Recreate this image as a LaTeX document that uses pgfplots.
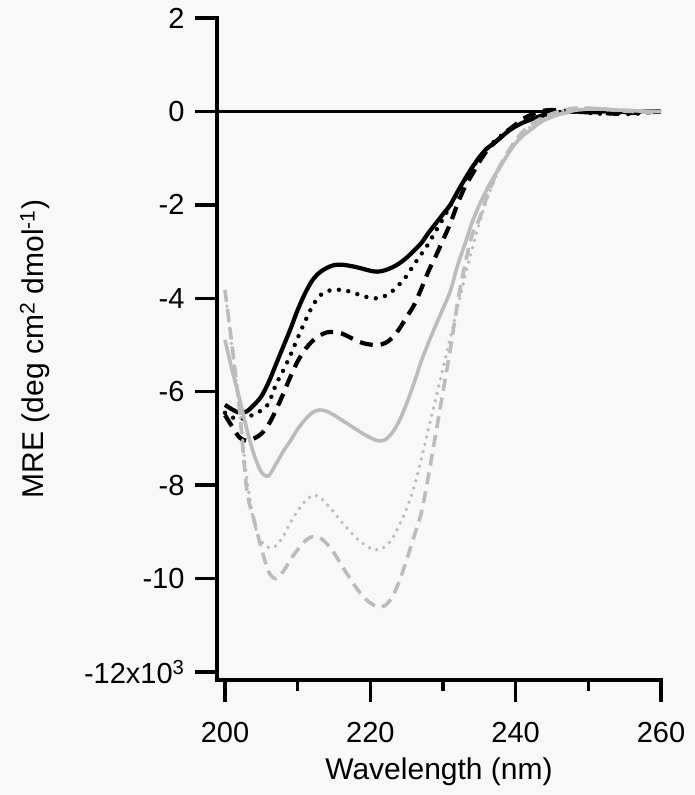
\documentclass[border=0pt]{standalone}
\usepackage{fontspec}
\setmainfont{Liberation Sans}
\usepackage{pgfplots}
\pgfplotsset{compat=1.18}
\definecolor{bg}{RGB}{248,248,248}
\definecolor{lg}{RGB}{188,188,188}
\begin{document}
\begin{tikzpicture}
\fill[bg] (0,0) rectangle (695pt,795pt);
\useasboundingbox (0,0) rectangle (695pt,795pt);
\begin{axis}[
  at={(217pt,115pt)}, anchor=south west,
  scale only axis, width=444pt, height=662pt,
  xmin=198.9, xmax=260, ymin=-12.17, ymax=2,
  axis lines*=left,
  axis line style={line width=3.5pt, line cap=rect},
  tick style={black, line width=3.5pt},
  tick align=outside, major tick length=22pt, minor tick length=11pt,
  xtick={200,220,240,260}, minor xtick={210,230,250},
  xticklabels={200,220,240,260},
  ytick={-12,-10,-8,-6,-4,-2,0,2},
  yticklabels={{-12x10\textsuperscript{3}},-10,-8,-6,-4,-2,0,2},
  yticklabel style={font=\fontsize{29}{34}\selectfont, xshift=-7pt},
  xticklabel style={font=\fontsize{29}{34}\selectfont, yshift=-17pt},
  every axis x label/.style={at={(rel axis cs:0.5,0)}, anchor=center, yshift=-92pt, font=\fontsize{30}{36}\selectfont},
  every axis y label/.style={at={(rel axis cs:0,0.5)}, anchor=center, xshift=-182pt, rotate=90, font=\fontsize{30}{36}\selectfont},
  xlabel={Wavelength (nm)},
  ylabel={MRE (deg cm\textsuperscript{2} dmol\textsuperscript{-1})},
]
\addplot[black, line width=3pt] coordinates {(198.9,0) (260,0)};
% black solid
\addplot[black, line width=4.2pt, smooth] coordinates {
(200,-6.28) (201,-6.38) (202,-6.45) (203,-6.42) (204,-6.28) (205,-6.10) (206,-5.80) (207,-5.42) (208,-5.04) (209,-4.66) (210,-4.25) (211,-3.90) (212,-3.62) (213,-3.45) (214,-3.35) (215,-3.29) (216,-3.28) (217,-3.30) (218,-3.33) (219,-3.37) (220,-3.41) (221,-3.43) (222,-3.40) (223,-3.34) (224,-3.25) (225,-3.13) (226,-2.98) (227,-2.82) (228,-2.60) (229,-2.40) (230,-2.20) (231,-2.00) (232,-1.72) (233,-1.45) (234,-1.20) (235,-0.98) (236,-0.80) (237,-0.68) (238,-0.55) (239,-0.42) (240,-0.32) (241,-0.24) (242,-0.18) (243,-0.12) (244,-0.07) (245,-0.04) (246,-0.02) (248,0.0) (250,-0.02) (252,0.0) (254,0.0) (256,-0.02) (258,0.0) (260,0.0)};
% black dotted
\addplot[black, line width=4.4pt, line cap=round, dash pattern=on 0pt off 9.5pt, smooth] coordinates {
(200,-6.45) (201,-6.55) (202,-6.58) (203,-6.55) (204,-6.48) (205,-6.40) (206,-6.25) (207,-5.85) (208,-5.55) (209,-5.22) (210,-4.85) (211,-4.50) (212,-4.18) (213,-3.95) (214,-3.85) (215,-3.82) (216,-3.82) (217,-3.85) (218,-3.90) (219,-3.95) (220,-3.99) (221,-4.00) (222,-3.95) (223,-3.85) (224,-3.70) (225,-3.52) (226,-3.28) (227,-3.06) (228,-2.83) (229,-2.56) (230,-2.30) (231,-2.02) (232,-1.75) (233,-1.47) (234,-1.22) (235,-0.99) (236,-0.80) (237,-0.65) (238,-0.52) (239,-0.40) (240,-0.30) (242,-0.16) (244,-0.08) (246,-0.03) (248,0.0) (250,-0.03) (252,-0.05) (254,-0.03) (256,-0.06) (258,-0.02) (260,0.0)};
% black dashed
\addplot[black, line width=4.2pt, dash pattern=on 13pt off 8pt, smooth] coordinates {
(200,-6.50) (201,-6.75) (202,-6.98) (203,-7.05) (204,-7.00) (205,-6.90) (206,-6.70) (207,-6.40) (208,-6.05) (209,-5.68) (210,-5.35) (211,-5.10) (212,-4.92) (213,-4.80) (214,-4.73) (215,-4.72) (216,-4.75) (217,-4.82) (218,-4.90) (219,-4.96) (220,-4.99) (221,-5.00) (222,-4.96) (223,-4.85) (224,-4.65) (225,-4.40) (226,-4.15) (227,-3.80) (228,-3.42) (229,-3.10) (230,-2.75) (231,-2.40) (232,-1.98) (233,-1.62) (234,-1.35) (235,-1.08) (236,-0.85) (237,-0.68) (238,-0.55) (239,-0.40) (240,-0.28) (241,-0.16) (242,-0.08) (243,-0.02) (244,0.02) (245,0.03) (246,0.02) (248,0.0) (250,0.0) (252,-0.03) (254,-0.05) (256,-0.03) (258,-0.02) (260,0.0)};
% gray solid
\addplot[lg, line width=3.6pt, smooth] coordinates {
(200,-4.89) (201,-5.55) (202,-6.15) (203,-6.80) (204,-7.35) (205,-7.72) (206,-7.80) (207,-7.55) (208,-7.28) (209,-7.05) (210,-6.80) (211,-6.60) (212,-6.45) (213,-6.39) (214,-6.42) (215,-6.50) (216,-6.60) (217,-6.70) (218,-6.80) (219,-6.90) (220,-6.98) (221,-7.05) (222,-7.03) (223,-6.88) (224,-6.62) (225,-6.25) (226,-5.82) (227,-5.35) (228,-4.95) (229,-4.58) (230,-4.22) (231,-3.85) (232,-3.30) (233,-2.85) (234,-2.38) (235,-2.00) (236,-1.68) (237,-1.40) (238,-1.15) (239,-0.90) (240,-0.68) (241,-0.52) (242,-0.40) (243,-0.28) (244,-0.18) (245,-0.12) (246,-0.06) (247,-0.03) (248,0.02) (250,0.05) (252,0.05) (254,0.03) (256,0.02) (258,0.0) (260,0.0)};
% gray dotted
\addplot[lg, line width=3.8pt, line cap=round, dash pattern=on 0pt off 7.5pt, smooth] coordinates {
(200,-3.85) (201,-5.10) (202,-6.40) (203,-7.85) (204,-8.80) (205,-9.20) (206,-9.33) (207,-9.30) (208,-9.10) (209,-8.80) (210,-8.55) (211,-8.35) (212,-8.22) (213,-8.25) (214,-8.40) (215,-8.58) (216,-8.78) (217,-8.95) (218,-9.12) (219,-9.25) (220,-9.35) (221,-9.38) (222,-9.32) (223,-9.15) (224,-8.85) (225,-8.50) (226,-8.05) (227,-7.45) (228,-6.80) (229,-6.15) (230,-5.50) (231,-4.85) (232,-4.20) (233,-3.55) (234,-2.95) (235,-2.40) (236,-1.90) (237,-1.50) (238,-1.15) (239,-0.88) (240,-0.65) (241,-0.48) (242,-0.33) (243,-0.22) (244,-0.13) (245,-0.06) (246,0.0) (247,0.03) (248,0.05) (250,0.06) (252,0.04) (254,0.02) (256,0.02) (258,0.0) (260,0.0)};
% gray dashed
\addplot[lg, line width=3.6pt, dash pattern=on 12pt off 7pt, smooth] coordinates {
(200,-3.82) (201,-5.05) (202,-6.40) (203,-8.10) (204,-8.75) (205,-9.35) (206,-9.85) (207,-10.00) (208,-9.85) (209,-9.60) (210,-9.38) (211,-9.20) (212,-9.10) (213,-9.12) (214,-9.25) (215,-9.45) (216,-9.70) (217,-9.95) (218,-10.18) (219,-10.38) (220,-10.52) (221,-10.60) (222,-10.58) (223,-10.40) (224,-10.05) (225,-9.60) (226,-9.10) (227,-8.60) (228,-7.80) (229,-6.90) (230,-6.00) (231,-5.10) (232,-4.10) (233,-3.30) (234,-2.65) (235,-2.30) (236,-1.85) (237,-1.45) (238,-1.12) (239,-0.85) (240,-0.62) (241,-0.43) (242,-0.30) (243,-0.19) (244,-0.11) (245,-0.05) (246,0.0) (247,0.04) (248,0.07) (250,0.07) (252,0.05) (254,0.02) (256,0.0) (258,-0.02) (260,0.0)};
\end{axis}
\end{tikzpicture}
\end{document}
